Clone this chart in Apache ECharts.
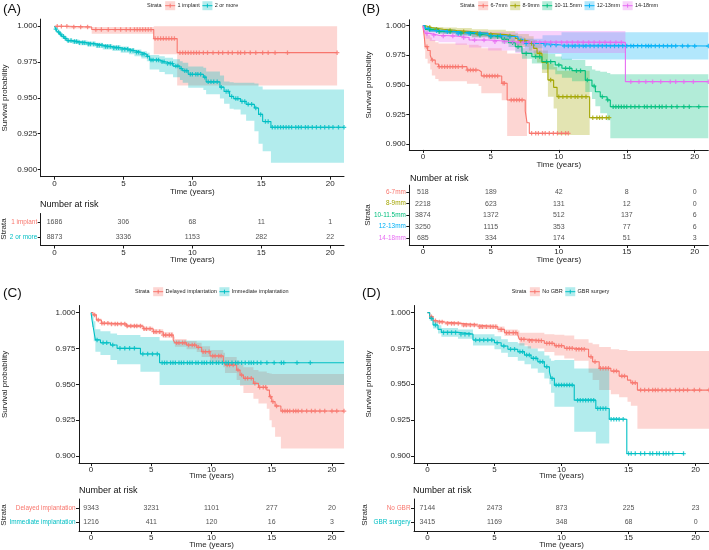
<!DOCTYPE html>
<html><head><meta charset="utf-8">
<script src="https://cdn.jsdelivr.net/npm/echarts@6/dist/echarts.min.js"></script>
<style>html,body{margin:0;padding:0;background:#fff}#c{width:709px;height:550px}</style>
</head><body><div id="c"></div>
<script>
// ---------------- DATA ----------------
const TIME_TICKS = [0, 5, 10, 15, 20];
const SURV_TICKS = [0.9, 0.925, 0.95, 0.975, 1.0];
const RISK_TIMES = [0, 5, 10, 15, 20];

// Panel A
const A_names = ['1 implant', '2 or more'];
const A1_t = [0, 1.0, 2.7, 7.2, 8.9];
const A1_s = [1, 0.9995, 0.9977, 0.9914, 0.9816];
const A1_lo = [0.9995, 0.9984, 0.9947, 0.9805, 0.9586];
const A1_hi = [1, 1, 0.9995, 1, 1];
const A1_end = 20.5;
const A1_cens = [0.2, 0.5, 0.9, 1.4, 1.9, 2.4, 3.0, 3.4, 3.9, 4.4, 4.8, 5.2, 5.5, 5.8, 6.0, 6.2, 6.4, 6.6, 6.8, 7.0, 7.3, 7.5, 7.7, 7.9, 8.1, 8.3, 8.5, 8.7, 9.1, 9.3, 9.5, 9.7, 9.9, 10.1, 10.3, 10.5, 10.8, 11.1, 11.5, 11.9, 12.2, 12.6, 12.9, 13.3, 13.5, 13.8, 14.2, 14.6, 15.1, 15.5, 16.0, 16.9, 20.5];
const A2_t = [0, 0.1, 0.2, 0.35, 0.5, 0.7, 0.9, 1.3, 1.8, 2.4, 3.0, 3.5, 4.2, 4.8, 5.4, 5.8, 6.3, 6.7, 6.9, 7.6, 8.0, 8.6, 9.1, 9.3, 9.7, 10.8, 11.0, 12.0, 12.3, 12.7, 13.0, 13.5, 13.9, 14.5, 14.8, 15.1, 15.7];
const A2_s = [1, 0.998, 0.996, 0.9945, 0.993, 0.9915, 0.990, 0.9893, 0.9885, 0.9877, 0.9868, 0.9858, 0.985, 0.984, 0.983, 0.9818, 0.9805, 0.979, 0.9765, 0.9752, 0.974, 0.9722, 0.9705, 0.969, 0.9665, 0.9645, 0.9612, 0.9575, 0.9545, 0.951, 0.9495, 0.9475, 0.9455, 0.943, 0.9385, 0.9335, 0.9295];
const A2_lo = [1, 0.997, 0.995, 0.993, 0.9915, 0.990, 0.9885, 0.9877, 0.9868, 0.9858, 0.9848, 0.9837, 0.9828, 0.9816, 0.9804, 0.979, 0.9775, 0.9755, 0.9698, 0.968, 0.9665, 0.9645, 0.9625, 0.9605, 0.957, 0.9555, 0.9525, 0.9495, 0.946, 0.9425, 0.9419, 0.9384, 0.934, 0.9267, 0.918, 0.9128, 0.9047];
const A2_hi = [1, 0.999, 0.997, 0.996, 0.9945, 0.993, 0.9915, 0.9908, 0.990, 0.9893, 0.9885, 0.9876, 0.9868, 0.9858, 0.9848, 0.9838, 0.9825, 0.9815, 0.980, 0.979, 0.978, 0.977, 0.9755, 0.9745, 0.972, 0.971, 0.9685, 0.9656, 0.9615, 0.961, 0.9605, 0.9605, 0.9605, 0.960, 0.958, 0.9558, 0.9558];
const A2_end = 21;
const A2_cens = [0.1, 0.3, 0.45, 0.65, 0.8, 1.0, 1.2, 1.45, 1.6, 1.8, 2.05, 2.2, 2.45, 2.6, 2.85, 3.1, 3.25, 3.45, 3.7, 3.85, 4.05, 4.3, 4.5, 4.65, 4.9, 5.1, 5.3, 5.5, 5.7, 5.95, 6.1, 6.35, 6.5, 6.75, 7.0, 7.15, 7.4, 7.55, 7.8, 7.95, 8.2, 8.4, 8.55, 8.8, 8.95, 9.2, 9.45, 9.6, 9.85, 10.0, 10.25, 10.4, 10.6, 10.9, 11.15, 11.35, 11.55, 11.8, 12.1, 12.45, 12.6, 12.85, 13.15, 13.3, 13.6, 13.8, 14.05, 14.3, 14.6, 14.95, 15.3, 15.5, 15.8, 16.0, 16.2, 16.4, 16.6, 16.8, 17.0, 17.2, 17.5, 17.7, 17.9, 18.2, 18.4, 18.7, 19.0, 19.3, 19.6, 19.9, 20.2, 20.6, 21.0];
const A_risk = [[1686, 306, 68, 11, 1], [8873, 3336, 1153, 282, 22]];

// Panel B
const B_names = ['6-7mm', '8-9mm', '10-11.5mm', '12-13mm', '14-18mm'];
const B1_t = [0, 0.1, 0.17, 0.35, 0.54, 0.66, 0.91, 1.15, 3.24, 4.1, 4.3, 5.8, 6.2, 7.53, 7.66, 7.83];
const B1_s = [1, 0.9907, 0.9823, 0.979, 0.9752, 0.971, 0.9676, 0.9654, 0.9625, 0.9611, 0.9575, 0.9513, 0.9372, 0.9279, 0.918, 0.909];
const B1_lo = [1, 0.98, 0.972, 0.968, 0.963, 0.958, 0.955, 0.953, 0.951, 0.949, 0.943, 0.937, 0.9068, 0.9068, null, null];
const B1_hi = [1, 0.998, 0.994, 0.992, 0.99, 0.988, 0.986, 0.985, 0.984, 0.983, 0.981, 0.979, 0.9766, 0.9766, null, null];
const B1_end = 10.7;
const B1_cens = [0.3, 0.7, 1.2, 1.4, 1.6, 1.8, 2.0, 2.2, 2.4, 2.6, 2.9, 3.3, 3.5, 3.7, 3.9, 4.5, 4.7, 4.9, 5.1, 5.3, 5.5, 5.9, 6.0, 6.5, 6.7, 6.9, 7.1, 7.3, 8.0, 8.3, 8.5, 8.8, 9.0, 9.3, 9.6, 9.9, 10.2, 10.5, 10.7];
const B2_t = [0, 0.2, 0.6, 1.5, 2.5, 3.6, 4.8, 6.1, 6.8, 7.0, 7.8, 8.15, 8.4, 8.76, 9.2, 9.62, 9.87, 12.27];
const B2_s = [1, 0.9985, 0.997, 0.996, 0.995, 0.9935, 0.9925, 0.9913, 0.9893, 0.9873, 0.985, 0.9808, 0.9766, 0.969, 0.9541, 0.9479, 0.94, 0.9222];
const B2_lo = [1, 0.997, 0.995, 0.9935, 0.9922, 0.9905, 0.989, 0.987, 0.984, 0.982, 0.979, 0.974, 0.969, 0.96, 0.94, 0.93, 0.9076, null];
const B2_hi = [1, 1, 0.999, 0.9985, 0.998, 0.997, 0.9965, 0.9955, 0.994, 0.993, 0.991, 0.988, 0.985, 0.979, 0.968, 0.965, 0.962, null];
const B2_end = 13.7;
const B2_cens = [0.5, 1.0, 2.0, 3.0, 4.0, 5.0, 6.4, 7.2, 7.5, 8.0, 8.6, 9.4, 10.0, 10.3, 10.6, 10.9, 11.2, 11.4, 11.7, 12.0, 12.5, 12.8, 13.0, 13.2, 13.5, 13.7];
const B3_t = [0, 0.17, 1.15, 2.4, 3.6, 4.83, 5.8, 6.3, 6.8, 7.29, 8.02, 8.76, 9.74, 10.23, 10.97, 11.95, 12.44, 12.69, 13.05, 13.55, 13.79];
const B3_s = [1, 0.9969, 0.995, 0.9935, 0.992, 0.9907, 0.9885, 0.9856, 0.9823, 0.9766, 0.9738, 0.9696, 0.9668, 0.964, 0.962, 0.954, 0.949, 0.9442, 0.94, 0.9372, 0.9315];
const B3_lo = [1, 0.995, 0.993, 0.9915, 0.99, 0.9885, 0.985, 0.982, 0.978, 0.972, 0.968, 0.963, 0.959, 0.956, 0.953, 0.944, 0.938, 0.932, 0.926, 0.92, 0.9048];
const B3_hi = [1, 0.9985, 0.9968, 0.9953, 0.994, 0.9928, 0.991, 0.989, 0.986, 0.981, 0.979, 0.976, 0.974, 0.972, 0.971, 0.966, 0.963, 0.962, 0.961, 0.96, 0.959];
const B3_end = 21;
const B3_cens = [0.5, 1.2, 2.0, 2.8, 3.5, 4.2, 5.0, 5.5, 6.0, 6.6, 7.0, 7.6, 8.3, 8.6, 9.1, 9.4, 10.0, 10.5, 10.8, 11.3, 11.6, 12.1, 12.6, 13.2, 13.6, 14.0, 14.2, 14.4, 14.6, 14.8, 15.0, 15.3, 15.6, 15.9, 16.3, 16.5, 16.8, 17.1, 17.4, 17.6, 17.9, 18.3, 18.7, 19.2, 19.6, 20.3];
const B4_t = [0, 0.15, 0.5, 1.5, 2.4, 4.8, 6.1, 7.0, 7.3, 7.5, 8.8, 10.2];
const B4_s = [1, 0.9977, 0.9958, 0.995, 0.9935, 0.9915, 0.9907, 0.9885, 0.987, 0.985, 0.9837, 0.9828];
const B4_lo = [1, 0.9965, 0.9945, 0.9935, 0.992, 0.9898, 0.9887, 0.986, 0.984, 0.981, 0.976, 0.9715];
const B4_hi = [1, 0.999, 0.997, 0.9965, 0.995, 0.9932, 0.9927, 0.991, 0.99, 0.989, 0.992, 0.9944];
const B4_end = 21;
const B4_cens = [0.4, 1.0, 1.8, 2.6, 3.4, 4.2, 5.0, 5.7, 6.4, 7.6, 8.2, 9.0, 9.4, 9.8, 10.4, 10.7, 11.0, 11.2, 11.5, 11.8, 12.0, 12.3, 12.6, 12.9, 13.2, 13.5, 13.8, 14.1, 14.4, 14.7, 15.0, 15.3, 15.5, 15.8, 16.1, 16.4, 16.6, 16.8, 17.1, 17.4, 17.7, 18.0, 18.3, 18.6, 19.1, 19.5, 20.0, 21.0];
const B5_t = [0, 0.1, 0.2, 0.5, 1.15, 2.4, 3.4, 4.8, 6.8, 14.9];
const B5_s = [1, 0.9955, 0.9935, 0.992, 0.9913, 0.99, 0.9879, 0.9865, 0.9859, 0.9527];
const B5_lo = [1, 0.992, 0.989, 0.987, 0.986, 0.984, 0.9815, 0.979, 0.977, null];
const B5_hi = [1, 0.999, 0.998, 0.997, 0.9965, 0.996, 0.9955, 0.995, 0.9955, null];
const B5_end = 21;
const B5_cens = [0.3, 0.8, 1.5, 2.2, 3.0, 3.8, 4.5, 5.3, 6.0, 6.6, 7.0, 7.4, 7.8, 8.2, 8.6, 9.0, 9.4, 9.8, 10.2, 10.6, 11.0, 11.4, 11.8, 12.2, 12.6, 13.0, 13.4, 13.8, 14.2, 14.6, 15.3, 15.9, 16.4, 16.9, 17.5, 18.2, 18.6, 19.2, 19.9, 21.0];
const B_risk = [[518, 189, 42, 8, 0], [2218, 623, 131, 12, 0], [3874, 1372, 512, 137, 6], [3250, 1115, 353, 77, 6], [685, 334, 174, 51, 3]];

// Panel C
const C_names = ['Delayed implantation', 'Immediate implantation'];
const C1_t = [0, 0.17, 0.44, 0.86, 1.55, 2.94, 4.33, 5.16, 5.99, 6.82, 6.96, 7.93, 8.77, 9.18, 9.88, 10.98, 11.12, 12.09, 12.37, 12.65, 13.48, 13.9, 14.59, 14.81, 15.0, 15.28, 15.76];
const C1_s = [1, 0.9984, 0.9949, 0.9926, 0.9921, 0.9907, 0.9888, 0.9867, 0.9844, 0.9809, 0.979, 0.9774, 0.9758, 0.9728, 0.9698, 0.967, 0.9635, 0.96, 0.9565, 0.9542, 0.9507, 0.9479, 0.946, 0.9414, 0.9379, 0.9349, 0.9314];
const C1_lo = [1, 0.9975, 0.9938, 0.9915, 0.991, 0.9895, 0.9874, 0.985, 0.9825, 0.9785, 0.9763, 0.9745, 0.9725, 0.969, 0.9655, 0.962, 0.958, 0.953, 0.949, 0.944, 0.94, 0.9367, 0.933, 0.925, 0.92, 0.9135, 0.9053];
const C1_hi = [1, 0.9993, 0.996, 0.9937, 0.9932, 0.992, 0.9902, 0.9884, 0.9863, 0.9833, 0.9817, 0.9803, 0.979, 0.9765, 0.974, 0.972, 0.969, 0.9665, 0.964, 0.962, 0.96, 0.959, 0.958, 0.9575, 0.9572, 0.9572, 0.9572];
const C1_end = 21;
const C1_cens = [0.3, 0.6, 0.9, 1.1, 1.4, 1.7, 2.0, 2.2, 2.5, 2.8, 3.0, 3.3, 3.6, 3.8, 4.1, 4.4, 4.6, 4.9, 5.2, 5.4, 5.7, 6.0, 6.2, 6.5, 6.7, 7.1, 7.3, 7.6, 7.8, 8.1, 8.4, 8.6, 8.9, 9.3, 9.5, 9.8, 10.1, 10.3, 10.6, 10.8, 11.3, 11.5, 11.8, 12.2, 12.5, 12.8, 13.0, 13.3, 13.6, 14.0, 14.3, 14.5, 14.9, 15.1, 15.4, 15.9, 16.1, 16.3, 16.5, 16.8, 17.0, 17.2, 17.5, 17.9, 18.3, 18.6, 19.0, 19.4, 20.0, 20.4, 21.0];
const C2_t = [0, 0.08, 0.22, 0.36, 0.78, 1.61, 2.16, 4.1, 5.69];
const C2_s = [1, 0.9949, 0.9879, 0.981, 0.979, 0.9774, 0.9751, 0.9712, 0.9651];
const C2_lo = [1, 0.99, 0.98, 0.9728, 0.9705, 0.967, 0.964, 0.9588, 0.9495];
const C2_hi = [1, 0.999, 0.994, 0.9885, 0.987, 0.9855, 0.9845, 0.983, 0.9805];
const C2_end = 21;
const C2_cens = [0.5, 1.0, 1.3, 1.8, 2.4, 2.8, 3.2, 3.6, 4.3, 4.7, 5.1, 5.5, 5.9, 6.1, 6.3, 6.6, 6.8, 7.0, 7.3, 7.5, 7.7, 8.0, 8.2, 8.4, 8.7, 8.9, 9.2, 9.4, 9.6, 9.9, 10.1, 10.4, 10.6, 10.9, 11.2, 11.4, 11.7, 12.0, 12.2, 12.5, 12.8, 13.1, 13.3, 13.5, 13.8, 14.1, 14.6, 15.2, 15.8, 16.0, 17.1, 18.2];
const C_risk = [[9343, 3231, 1101, 277, 20], [1216, 411, 120, 16, 3]];

// Panel D
const D_names = ['No GBR', 'GBR surgery'];
const D1_t = [0, 0.17, 0.42, 0.67, 1.29, 2.53, 3.77, 5.25, 5.75, 6.74, 6.86, 7.48, 8.72, 9.47, 10.21, 10.95, 12.02, 12.32, 12.81, 13.68, 14.3, 14.92, 15.17, 15.66];
const D1_s = [1, 0.9972, 0.9944, 0.9935, 0.9925, 0.9914, 0.9902, 0.9883, 0.986, 0.9844, 0.9814, 0.9804, 0.9786, 0.9769, 0.9751, 0.9744, 0.9692, 0.9657, 0.9611, 0.9592, 0.9557, 0.9529, 0.951, 0.9459];
const D1_lo = [1, 0.9965, 0.9935, 0.9925, 0.9914, 0.99, 0.9886, 0.9863, 0.9837, 0.9815, 0.977, 0.975, 0.9725, 0.97, 0.968, 0.9665, 0.958, 0.953, 0.946, 0.943, 0.941, 0.9378, 0.935, 0.919];
const D1_hi = [1, 0.998, 0.9953, 0.9945, 0.9936, 0.9928, 0.9918, 0.9903, 0.9883, 0.9875, 0.986, 0.986, 0.985, 0.9845, 0.984, 0.9815, 0.979, 0.978, 0.976, 0.9745, 0.974, 0.9732, 0.9732, 0.9732];
const D1_end = 21;
const D1_cens = [0.3, 0.6, 0.9, 1.1, 1.5, 1.8, 2.0, 2.3, 2.7, 2.9, 3.2, 3.5, 3.9, 4.1, 4.4, 4.7, 4.9, 5.1, 5.5, 5.9, 6.1, 6.4, 6.6, 7.0, 7.2, 7.6, 7.8, 8.1, 8.3, 8.5, 8.9, 9.1, 9.3, 9.6, 9.8, 10.0, 10.4, 10.6, 10.8, 11.1, 11.3, 11.5, 11.7, 12.2, 12.5, 12.9, 13.1, 13.3, 13.5, 13.9, 14.1, 14.5, 14.7, 15.3, 15.5, 15.9, 16.2, 16.5, 16.8, 17.0, 17.2, 17.5, 17.8, 18.1, 18.5, 18.8, 19.1, 19.4, 19.9, 20.3, 21.0];
const D2_t = [0, 0.17, 0.42, 0.79, 1.04, 2.28, 3.4, 5.0, 5.5, 6.0, 6.74, 7.24, 7.73, 8.23, 8.72, 9.1, 9.22, 9.47, 10.95, 12.56, 13.56, 14.87];
const D2_s = [1, 0.996, 0.9914, 0.9883, 0.9862, 0.985, 0.9809, 0.979, 0.9767, 0.9744, 0.9727, 0.9704, 0.9681, 0.9657, 0.9622, 0.9587, 0.9541, 0.9494, 0.9389, 0.9331, 0.9256, 0.9016];
const D2_lo = [1, 0.9945, 0.989, 0.9855, 0.9832, 0.9818, 0.977, 0.9745, 0.972, 0.969, 0.9665, 0.964, 0.961, 0.958, 0.954, 0.95, 0.944, 0.9343, 0.9168, 0.9086, null, null];
const D2_hi = [1, 0.9975, 0.994, 0.9912, 0.9892, 0.9883, 0.985, 0.9835, 0.9815, 0.9795, 0.9786, 0.9765, 0.975, 0.973, 0.97, 0.968, 0.9665, 0.967, 0.961, 0.961, null, null];
const D2_end = 19.13;
const D2_cens = [0.3, 0.6, 1.2, 1.5, 1.8, 2.1, 2.5, 2.8, 3.1, 3.6, 3.9, 4.2, 4.5, 4.8, 5.2, 5.7, 6.2, 6.5, 6.9, 7.1, 7.4, 7.6, 7.9, 8.1, 8.4, 8.6, 8.9, 9.3, 9.6, 9.8, 10.0, 10.2, 10.4, 10.6, 10.8, 11.2, 11.4, 11.6, 11.8, 12.0, 12.2, 12.4, 12.7, 12.9, 13.1, 13.3, 13.7, 13.9, 14.1, 14.3, 14.6, 15.0, 15.2, 15.5, 15.9, 16.2, 16.6, 16.8, 17.1, 17.3, 17.6, 17.8, 18.0, 18.3, 19.1];
const D_risk = [[7144, 2473, 873, 225, 23], [3415, 1169, 348, 68, 0]];

// ---------------- STYLE / LAYOUT ----------------
const FF = '"Liberation Sans", Arial, Helvetica, sans-serif';
const COL2 = ['#F8766D', '#00BFC4'];
const COL5 = ['#F8766D', '#A3A500', '#00BF7D', '#00B0F6', '#E76BF3'];
const AXC = '#1a1a1a';
const TXC = '#262626';
const PLUS = 'path://M3.6,0H6.4V3.6H10V6.4H6.4V10H3.6V6.4H0V3.6H3.6Z';

const PANELS = [
  { tag: '(A)', names: A_names, colors: COL2, risk: A_risk,
    curves: [[A1_t, A1_s, A1_lo, A1_hi, A1_end, A1_cens], [A2_t, A2_s, A2_lo, A2_hi, A2_end, A2_cens]],
    plot: { left: 40.7, top: 19.1, width: 303.3, height: 157.6 },
    table: { left: 40.7, top: 213.5, width: 303.3, height: 32 },
    tagPos: [3, 9], yTitle: [4.5, 98], xTitleY: 191.5, nar: [40, 205], tXTitleY: 259.5, strata: [4, 229], legend: [147, 5.7] },
  { tag: '(B)', names: B_names, colors: COL5, risk: B_risk,
    curves: [[B1_t, B1_s, B1_lo, B1_hi, B1_end, B1_cens], [B2_t, B2_s, B2_lo, B2_hi, B2_end, B2_cens],
             [B3_t, B3_s, B3_lo, B3_hi, B3_end, B3_cens], [B4_t, B4_s, B4_lo, B4_hi, B4_end, B4_cens],
             [B5_t, B5_s, B5_lo, B5_hi, B5_end, B5_cens]],
    plot: { left: 409.3, top: 19.8, width: 299, height: 130.1 },
    table: { left: 409.3, top: 185.2, width: 299, height: 59.8 },
    tagPos: [362, 9], yTitle: [368.5, 85], xTitleY: 164.3, nar: [410, 178.3], tXTitleY: 259.3, strata: [367.7, 215], legend: [460, 5.7] },
  { tag: '(C)', names: C_names, colors: COL2, risk: C_risk,
    curves: [[C1_t, C1_s, C1_lo, C1_hi, C1_end, C1_cens], [C2_t, C2_s, C2_lo, C2_hi, C2_end, C2_cens]],
    plot: { left: 79, top: 305.5, width: 265, height: 157.7 },
    table: { left: 79, top: 499, width: 265, height: 32.1 },
    tagPos: [3, 293], yTitle: [5, 384.4], xTitleY: 476, nar: [79, 490.7], tXTitleY: 545, strata: [4, 515], legend: [135, 291.7] },
  { tag: '(D)', names: D_names, colors: COL2, risk: D_risk,
    curves: [[D1_t, D1_s, D1_lo, D1_hi, D1_end, D1_cens], [D2_t, D2_s, D2_lo, D2_hi, D2_end, D2_cens]],
    plot: { left: 414, top: 305.5, width: 295, height: 157.5 },
    table: { left: 414, top: 499, width: 295, height: 32.1 },
    tagPos: [362, 293], yTitle: [368.5, 384], xTitleY: 476, nar: [413, 490.7], tXTitleY: 545, strata: [365, 515], legend: [511.7, 291.7] }
];

function rgba(hex, a) {
  const n = parseInt(hex.slice(1), 16);
  return `rgba(${(n >> 16) & 255},${(n >> 8) & 255},${n & 255},${a})`;
}
function survAt(t, s, x) {
  let v = s[0];
  for (let i = 0; i < t.length; i++) { if (t[i] <= x) v = s[i]; else break; }
  return v;
}
function stepPoints(t, s, end) {
  const p = [[t[0], s[0]]];
  for (let i = 1; i < t.length; i++) { p.push([t[i], s[i - 1]]); p.push([t[i], s[i]]); }
  p.push([end, s[s.length - 1]]);
  return p;
}

const grids = [], xAxes = [], yAxes = [], series = [], gfx = [];
const mctx = document.createElement('canvas').getContext('2d');
function tw(text, size) { mctx.font = size + 'px "Liberation Sans", Arial'; return mctx.measureText(text).width; }

function xAxis(gi) {
  return { type: 'value', gridIndex: gi, min: -1, max: 21,
    axisLine: { show: true, onZero: false, lineStyle: { color: AXC, width: 1 } },
    axisTick: { show: true, length: 3, customValues: TIME_TICKS, lineStyle: { color: AXC, width: 1 } },
    axisLabel: { customValues: TIME_TICKS, fontSize: 8, color: TXC, margin: 3, fontFamily: FF },
    splitLine: { show: false } };
}

const bandSeries = [], lineSeries = [], censSeries = [];
PANELS.forEach((P, pi) => {
  const gP = grids.length;
  grids.push(Object.assign({ containLabel: false }, P.plot));
  const gT = grids.length;
  grids.push(Object.assign({ containLabel: false }, P.table));
  xAxes.push(xAxis(gP), xAxis(gT));
  yAxes.push({ type: 'value', gridIndex: gP, min: 0.895, max: 1.005,
    axisLine: { show: true, onZero: false, lineStyle: { color: AXC, width: 1 } },
    axisTick: { show: true, length: 3, customValues: SURV_TICKS, lineStyle: { color: AXC } },
    axisLabel: { customValues: SURV_TICKS, fontSize: 8, color: TXC, margin: 3.5, fontFamily: FF, formatter: v => v.toFixed(3) },
    splitLine: { show: false } });
  const n = P.names.length;
  const rows = P.names.map((_, i) => i + 1);
  const rich = {};
  P.names.forEach((nm, i) => { rich['s' + i] = { color: P.colors[i], fontSize: 6.4, fontFamily: FF }; });
  yAxes.push({ type: 'value', gridIndex: gT, min: 0.4, max: n + 0.6, inverse: true,
    axisLine: { show: true, onZero: false, lineStyle: { color: AXC, width: 1 } },
    axisTick: { show: true, length: 3, customValues: rows, lineStyle: { color: AXC } },
    axisLabel: { customValues: rows, margin: 3.5, formatter: v => `{s${Math.round(v) - 1}|${P.names[Math.round(v) - 1]}}`, rich },
    splitLine: { show: false } });

  P.curves.forEach((c, ci) => {
    const [t, s, lo, hi, end, cens] = c;
    const col = P.colors[ci];
    bandSeries.push({ type: 'custom', xAxisIndex: gP, yAxisIndex: gP, silent: true, animation: false,
      data: [[5, 0.95]], z: 1,
      renderItem: (params, api) => {
        const up = [], dn = [];
        for (let i = 0; i < t.length; i++) {
          if (lo[i] == null) break;
          const t1 = (i + 1 < t.length) ? t[i + 1] : end;
          up.push(api.coord([t[i], hi[i]]), api.coord([t1, hi[i]]));
          dn.push(api.coord([t[i], lo[i]]), api.coord([t1, lo[i]]));
        }
        return { type: 'polygon', shape: { points: up.concat(dn.reverse()) }, style: { fill: rgba(col, 0.3) } };
      } });
    lineSeries.push({ type: 'line', xAxisIndex: gP, yAxisIndex: gP, data: stepPoints(t, s, end),
      showSymbol: false, symbol: 'none', animation: false, silent: true, z: 3,
      lineStyle: { color: col, width: 1.1 } });
    censSeries.push({ type: 'scatter', xAxisIndex: gP, yAxisIndex: gP, animation: false, silent: true, z: 4,
      data: cens.map(x => [x, survAt(t, s, x)]), symbol: PLUS, symbolSize: 4.5,
      itemStyle: { color: col } });
  });

  // risk table numbers
  const rd = [];
  P.risk.forEach((r, ri) => r.forEach((v, k) => rd.push([RISK_TIMES[k], ri + 1, v])));
  series.push({ type: 'scatter', xAxisIndex: gT, yAxisIndex: gT, animation: false, silent: true,
    data: rd, symbolSize: 1, itemStyle: { color: 'rgba(0,0,0,0)' },
    label: { show: true, position: 'inside', formatter: p => String(p.value[2]), fontSize: 7, color: TXC, fontFamily: FF } });

  // texts
  const txt = (x, y, text, size, opts) => gfx.push(Object.assign({ type: 'text', x, y, silent: true,
    style: Object.assign({ text, fontSize: size, fontFamily: FF, fill: TXC, align: 'center', verticalAlign: 'middle' }, (opts && opts.style) || {}) },
    (opts && opts.el) || {}));
  txt(P.tagPos[0], P.tagPos[1], P.tag, 13.5, { style: { align: 'left', fill: '#111' } });
  txt(P.yTitle[0], P.yTitle[1], 'Survival probability', 8, { el: { rotation: Math.PI / 2 } });
  txt(P.plot.left + P.plot.width / 2, P.xTitleY, 'Time (years)', 8);
  txt(P.nar[0], P.nar[1], 'Number at risk', 9, { style: { align: 'left', fill: '#111' } });
  txt(P.table.left + P.table.width / 2, P.tXTitleY, 'Time (years)', 8);
  txt(P.strata[0], P.strata[1], 'Strata', 8, { el: { rotation: Math.PI / 2 } });

  // legend
  let lx = P.legend[0]; const ly = P.legend[1];
  txt(lx, ly, 'Strata', 5.5, { style: { align: 'left' } });
  lx += tw('Strata', 5.5) + 3.5;
  P.names.forEach((nm, i) => {
    const col = P.colors[i];
    gfx.push({ type: 'rect', silent: true, shape: { x: lx, y: ly - 4.5, width: 10, height: 9 }, style: { fill: rgba(col, 0.3) } });
    gfx.push({ type: 'line', silent: true, shape: { x1: lx, y1: ly, x2: lx + 10, y2: ly }, style: { stroke: col, lineWidth: 1 } });
    gfx.push({ type: 'line', silent: true, shape: { x1: lx + 5, y1: ly - 2, x2: lx + 5, y2: ly + 2 }, style: { stroke: col, lineWidth: 1 } });
    lx += 12.3;
    txt(lx, ly, nm, 5.5, { style: { align: 'left' } });
    lx += tw(nm, 5.5) + 2.6;
  });
});

const chart = echarts.init(document.getElementById('c'), null, { renderer: 'canvas' });
chart.setOption({
  backgroundColor: '#fff',
  animation: false,
  grid: grids, xAxis: xAxes, yAxis: yAxes,
  series: bandSeries.concat(lineSeries, censSeries, series),
  graphic: { elements: gfx }
});
</script></body></html>
